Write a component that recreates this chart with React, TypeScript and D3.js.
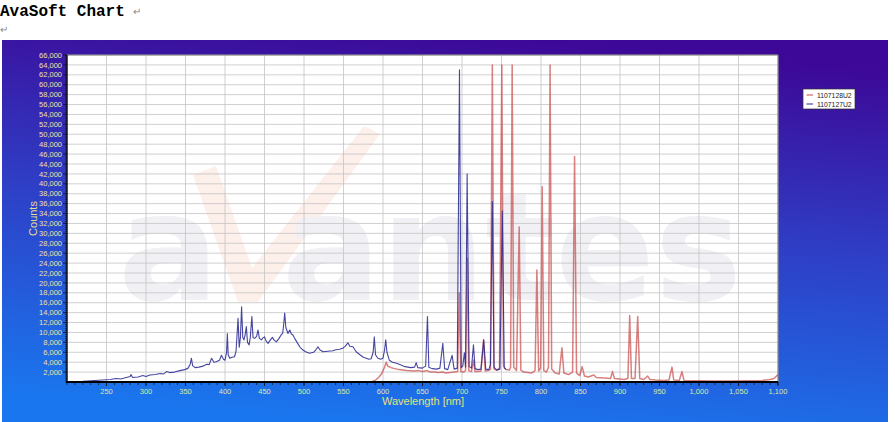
import React from 'react';
import * as d3 from 'd3';

const W = 895;
const H = 422;

const titleText = 'AvaSoft Chart';
const seriesNames = ['1107128U2', '1107127U2'];
const seriesColors = ['#c84848', '#262690'];
const xTickValues = [250, 300, 350, 400, 450, 500, 550, 600, 650, 700, 750, 800, 850, 900, 950, 1000, 1050, 1100];
const yTickValues = [2000, 4000, 6000, 8000, 10000, 12000, 14000, 16000, 18000, 20000, 22000, 24000, 26000, 28000, 30000, 32000, 34000, 36000, 38000, 40000, 42000, 44000, 46000, 48000, 50000, 52000, 54000, 56000, 58000, 60000, 62000, 64000, 66000];

// 1107128U2 (red)
const redWavelengths = [
  585, 590, 595, 598, 600, 602, 604, 606, 610, 615, 620, 625, 630, 640, 645, 650, 656, 660, 665, 670, 675, 680, 685, 690,
  694.5, 696.5, 698.5, 702, 704.5, 706.7, 708.5, 712, 714.7, 716.5, 720, 724, 727.3, 729.5, 733, 736, 738.4, 740.5,
  744, 747.5, 750.4, 752.5, 756, 760, 761.5, 763.5, 765.5, 769, 772.4, 774.5, 778, 783, 788, 792.5, 794.8, 797, 799.5,
  801.5, 803.5, 807, 809.5, 811.5, 813.5, 818, 823, 826.5, 829, 835, 840, 842.5, 845, 849, 852.1, 855, 860, 866.8, 870,
  880, 888, 890.5, 893, 900, 905, 910, 912.3, 914.5, 919, 922.4, 925, 930, 935, 938, 945, 955, 962, 965.8, 968, 975,
  978.5, 981, 990, 1000, 1020, 1040, 1060, 1080, 1090, 1095, 1100,
];
const redCounts = [
  0, 300, 1000, 1600, 2300, 3000, 4000, 3200, 2900, 2700, 2500, 2400, 2300, 2200, 2300, 2100, 2300, 2000, 2000, 1900, 2000, 1800, 1900, 2000,
  2100, 18000, 2100, 2000, 2300, 25000, 2300, 2100, 4400, 2100, 2100, 2200, 8500, 2200, 2300, 2500, 64000, 2600,
  2400, 2800, 64000, 3200, 2500, 2400, 3000, 64000, 3000, 2300, 31300, 2400, 2000, 1900, 1800, 2300, 22600, 2200, 2800,
  39400, 2300, 2000, 3000, 64000, 2600, 1800, 1600, 6900, 1800, 1500, 2000, 45500, 1800, 1300, 3100, 1200, 1000, 1400, 900,
  800, 700, 2100, 700, 600, 500, 700, 13400, 700, 700, 13200, 700, 500, 1200, 500, 400, 300, 400, 3000, 400, 300,
  2100, 300, 250, 250, 200, 200, 250, 300, 500, 700, 1500,
];

// 1107127U2 (blue)
const blueWavelengths = [
  200, 220, 235, 245, 255, 262, 268, 275, 280, 281, 283, 290, 296, 300, 305, 312, 318, 322, 326, 330, 336, 343, 349, 353,
  356, 357.5, 359, 362, 367, 372, 377, 380, 383, 386, 389, 393, 395.5, 398, 400, 402, 403, 404, 406, 409, 412, 414, 416.5,
  418, 419.5, 421, 422.5, 424, 425.5, 427, 428.5, 430.5, 432, 434, 435.5, 437.6, 440, 441.8, 443.5, 446, 448, 450, 452,
  454.5, 457, 460, 462, 465, 468, 471, 473, 474.5, 475.6, 477, 479.7, 482, 484, 486, 489, 492, 495, 498.7, 502, 507, 512,
  515, 517.7, 520, 524, 530, 536.6, 540, 545, 549, 552, 555.6, 558, 562, 566, 570, 575, 578.8, 582, 585, 587.5, 589, 590.5,
  593.5, 597, 600, 602, 603.5, 605, 608, 612, 617, 622, 628, 635, 640, 642, 644, 650, 654, 656.3, 658, 662, 668, 672,
  675.7, 678, 682, 687.5, 690, 694, 696.8, 699, 701, 703, 704.5, 706.5, 709, 712, 714.5, 716.5, 720, 724, 727.5, 730,
  734, 736, 738.4, 740.5, 744, 748, 751, 753.5, 756,
];
const blueCounts = [
  100, 150, 300, 400, 500, 700, 600, 900, 1100, 1500, 900, 1000, 1300, 1100, 1400, 1500, 1700, 1600, 2100, 1900, 2000, 2300, 2500, 2750,
  3600, 4800, 3300, 2900, 3000, 3200, 3600, 3500, 4800, 4000, 4100, 4400, 5400, 4600, 4400, 6000, 9800, 5500, 4800, 5000, 5100, 6200, 12850,
  7000, 9000, 15200, 9000, 8500, 9500, 11200, 8000, 7500, 9000, 13200, 9000, 8800, 9200, 10500, 8800, 8500, 8900, 9100, 8300,
  7800, 8400, 9000, 8500, 8100, 8700, 9500, 9800, 12000, 13900, 11000, 9800, 10500, 9700, 9500, 8600, 7800, 7000, 6450, 6100, 5800, 6000,
  6500, 7100, 6500, 6100, 6200, 6300, 6500, 6600, 6800, 7200, 7900, 7200, 7100, 6100, 5600, 5000, 4800, 4600, 4700, 6000, 9100, 5500,
  4800, 4600, 4800, 6500, 8500, 6000, 4400, 4000, 3800, 3500, 3100, 2900, 3000, 3900, 2900, 2800, 3200, 13200, 3000, 2700, 2600, 2800,
  7800, 2700, 2500, 5400, 2600, 2800, 63000, 2900, 3200, 5900, 3000, 42000, 3100, 2800, 7500, 2700, 2500, 2600, 8500, 2600,
  2500, 3500, 36400, 3000, 2400, 2600, 34500, 2800, 2500,
];

const PL = 67;
const PR = 778;
const PT = 55;
const PB = 382;

export default function App() {
  const x = d3.scaleLinear().domain([200, 1100]).range([PL, PR]);
  const y = d3.scaleLinear().domain([0, 66000]).range([PB, PT]);
  const fmt = d3.format(',');

  const redData = redWavelengths.map((w, i) => [w, redCounts[i]] as [number, number]);
  const blueData = blueWavelengths.map((w, i) => [w, blueCounts[i]] as [number, number]);
  const line = d3
    .line<[number, number]>()
    .x((d) => x(d[0]))
    .y((d) => y(d[1]));

  const minorX = d3.range(200, 1101, 10);
  const minorY = d3.range(0, 66001, 400);

  const sans = 'Liberation Sans, Arial, sans-serif';

  return (
    <svg
      width={W}
      height={H}
      style={{ position: 'absolute', left: 0, top: 0, background: '#fff' }}
    >
      <defs>
        <linearGradient id="bg" x1="0.6" y1="0" x2="0.4" y2="1">
          <stop offset="0" stopColor="#3d0897" />
          <stop offset="0.45" stopColor="#2f3cc4" />
          <stop offset="1" stopColor="#1a76ee" />
        </linearGradient>
        <clipPath id="plotClip">
          <rect x={PL} y={PT} width={PR - PL} height={PB - PT} />
        </clipPath>
      </defs>

      <text x={0} y={16} fontFamily="Liberation Mono, Courier New, monospace" fontWeight="bold" fontSize={16} fill="#000">
        {titleText}
      </text>
      <text x={133} y={15} fontFamily={sans} fontSize={10} fill="#888">↵</text>
      <text x={0} y={33} fontFamily={sans} fontSize={10} fill="#888">↵</text>

      <rect x={2} y={40} width={886} height={382} fill="url(#bg)" />

      <rect x={PL} y={PT} width={PR - PL} height={PB - PT} fill="#fff" />

      <g clipPath="url(#plotClip)">
        <text x={118} y={300} fontFamily="DejaVu Sans, sans-serif" fontWeight="bold" fontSize={150} fill="#f1f1f5">a</text>
        <path d="M193,175 L216,166 L252,268 L364,126 L380,134 L258,302 L238,302 Z" fill="#fdefea" />
        <text x={282} y={300} fontFamily="DejaVu Sans, sans-serif" fontWeight="bold" fontSize={150} fill="#f1f1f5" textLength={460} lengthAdjust="spacingAndGlyphs">antes</text>
      </g>

      <g>
        {yTickValues.map((v) => (
          <line key={'gy' + v} x1={PL} x2={PR} y1={y(v)} y2={y(v)} stroke="#c4c4c4" strokeWidth={0.8} />
        ))}
        {xTickValues.map((v) => (
          <line key={'gx' + v} x1={x(v)} x2={x(v)} y1={PT} y2={PB} stroke="#c4c4c4" strokeWidth={0.8} />
        ))}
      </g>

      <g clipPath="url(#plotClip)" fill="none" strokeLinejoin="round">
        <path d={line(redData) || ''} stroke={seriesColors[0]} strokeWidth={1.5} strokeOpacity={0.7} />
        <path d={line(blueData) || ''} stroke={seriesColors[1]} strokeWidth={1.1} strokeOpacity={0.85} />
      </g>

      <rect x={PL} y={PT} width={PR - PL} height={PB - PT} fill="none" stroke="#6a6a6a" strokeWidth={0.8} />
      <line x1={PL} x2={PL} y1={PT} y2={PB + 1} stroke="#000" strokeWidth={1.2} />
      <line x1={PL - 1} x2={PR} y1={PB} y2={PB} stroke="#000" strokeWidth={2} />

      {minorY.map((v) => (
        <line key={'my' + v} x1={PL - 2} x2={PL} y1={y(v)} y2={y(v)} stroke="#111" strokeWidth={0.7} />
      ))}
      {yTickValues.map((v) => (
        <g key={'ty' + v}>
          <line x1={PL - 4} x2={PL} y1={y(v)} y2={y(v)} stroke="#111" strokeWidth={0.8} />
          <text x={PL - 5} y={y(v) + 2.6} textAnchor="end" fontFamily={sans} fontSize={7.5} fill="#eee0a4">
            {fmt(v)}
          </text>
        </g>
      ))}
      {minorX.map((v) => (
        <line key={'mx' + v} x1={x(v)} x2={x(v)} y1={PB} y2={PB + 3} stroke="#111" strokeWidth={0.7} />
      ))}
      {xTickValues.map((v) => (
        <g key={'tx' + v}>
          <line x1={x(v)} x2={x(v)} y1={PB} y2={PB + 4} stroke="#111" strokeWidth={0.8} />
          <text x={x(v)} y={393.5} textAnchor="middle" fontFamily={sans} fontSize={7.5} fill="#dfe8a8">
            {fmt(v)}
          </text>
        </g>
      ))}

      <text
        x={0}
        y={0}
        transform={`translate(37,${(PT + PB) / 2}) rotate(-90)`}
        textAnchor="middle"
        fontFamily={sans}
        fontSize={11}
        fill="#e4df8a"
      >
        Counts
      </text>
      <text x={423} y={405} textAnchor="middle" fontFamily={sans} fontSize={11} fill="#e4e27a">
        Wavelength [nm]
      </text>

      <g>
        <rect x={803} y={89} width={52} height={20} fill="#fff" stroke="#333" strokeWidth={0.7} />
        {seriesNames.map((n, i) => (
          <g key={n}>
            <line x1={806.5} x2={813} y1={95 + i * 9} y2={95 + i * 9} stroke={seriesColors[i]} strokeWidth={1} />
            <text x={817} y={97.5 + i * 9} fontFamily={sans} fontSize={6.8} fill="#222">
              {n}
            </text>
          </g>
        ))}
      </g>
    </svg>
  );
}
